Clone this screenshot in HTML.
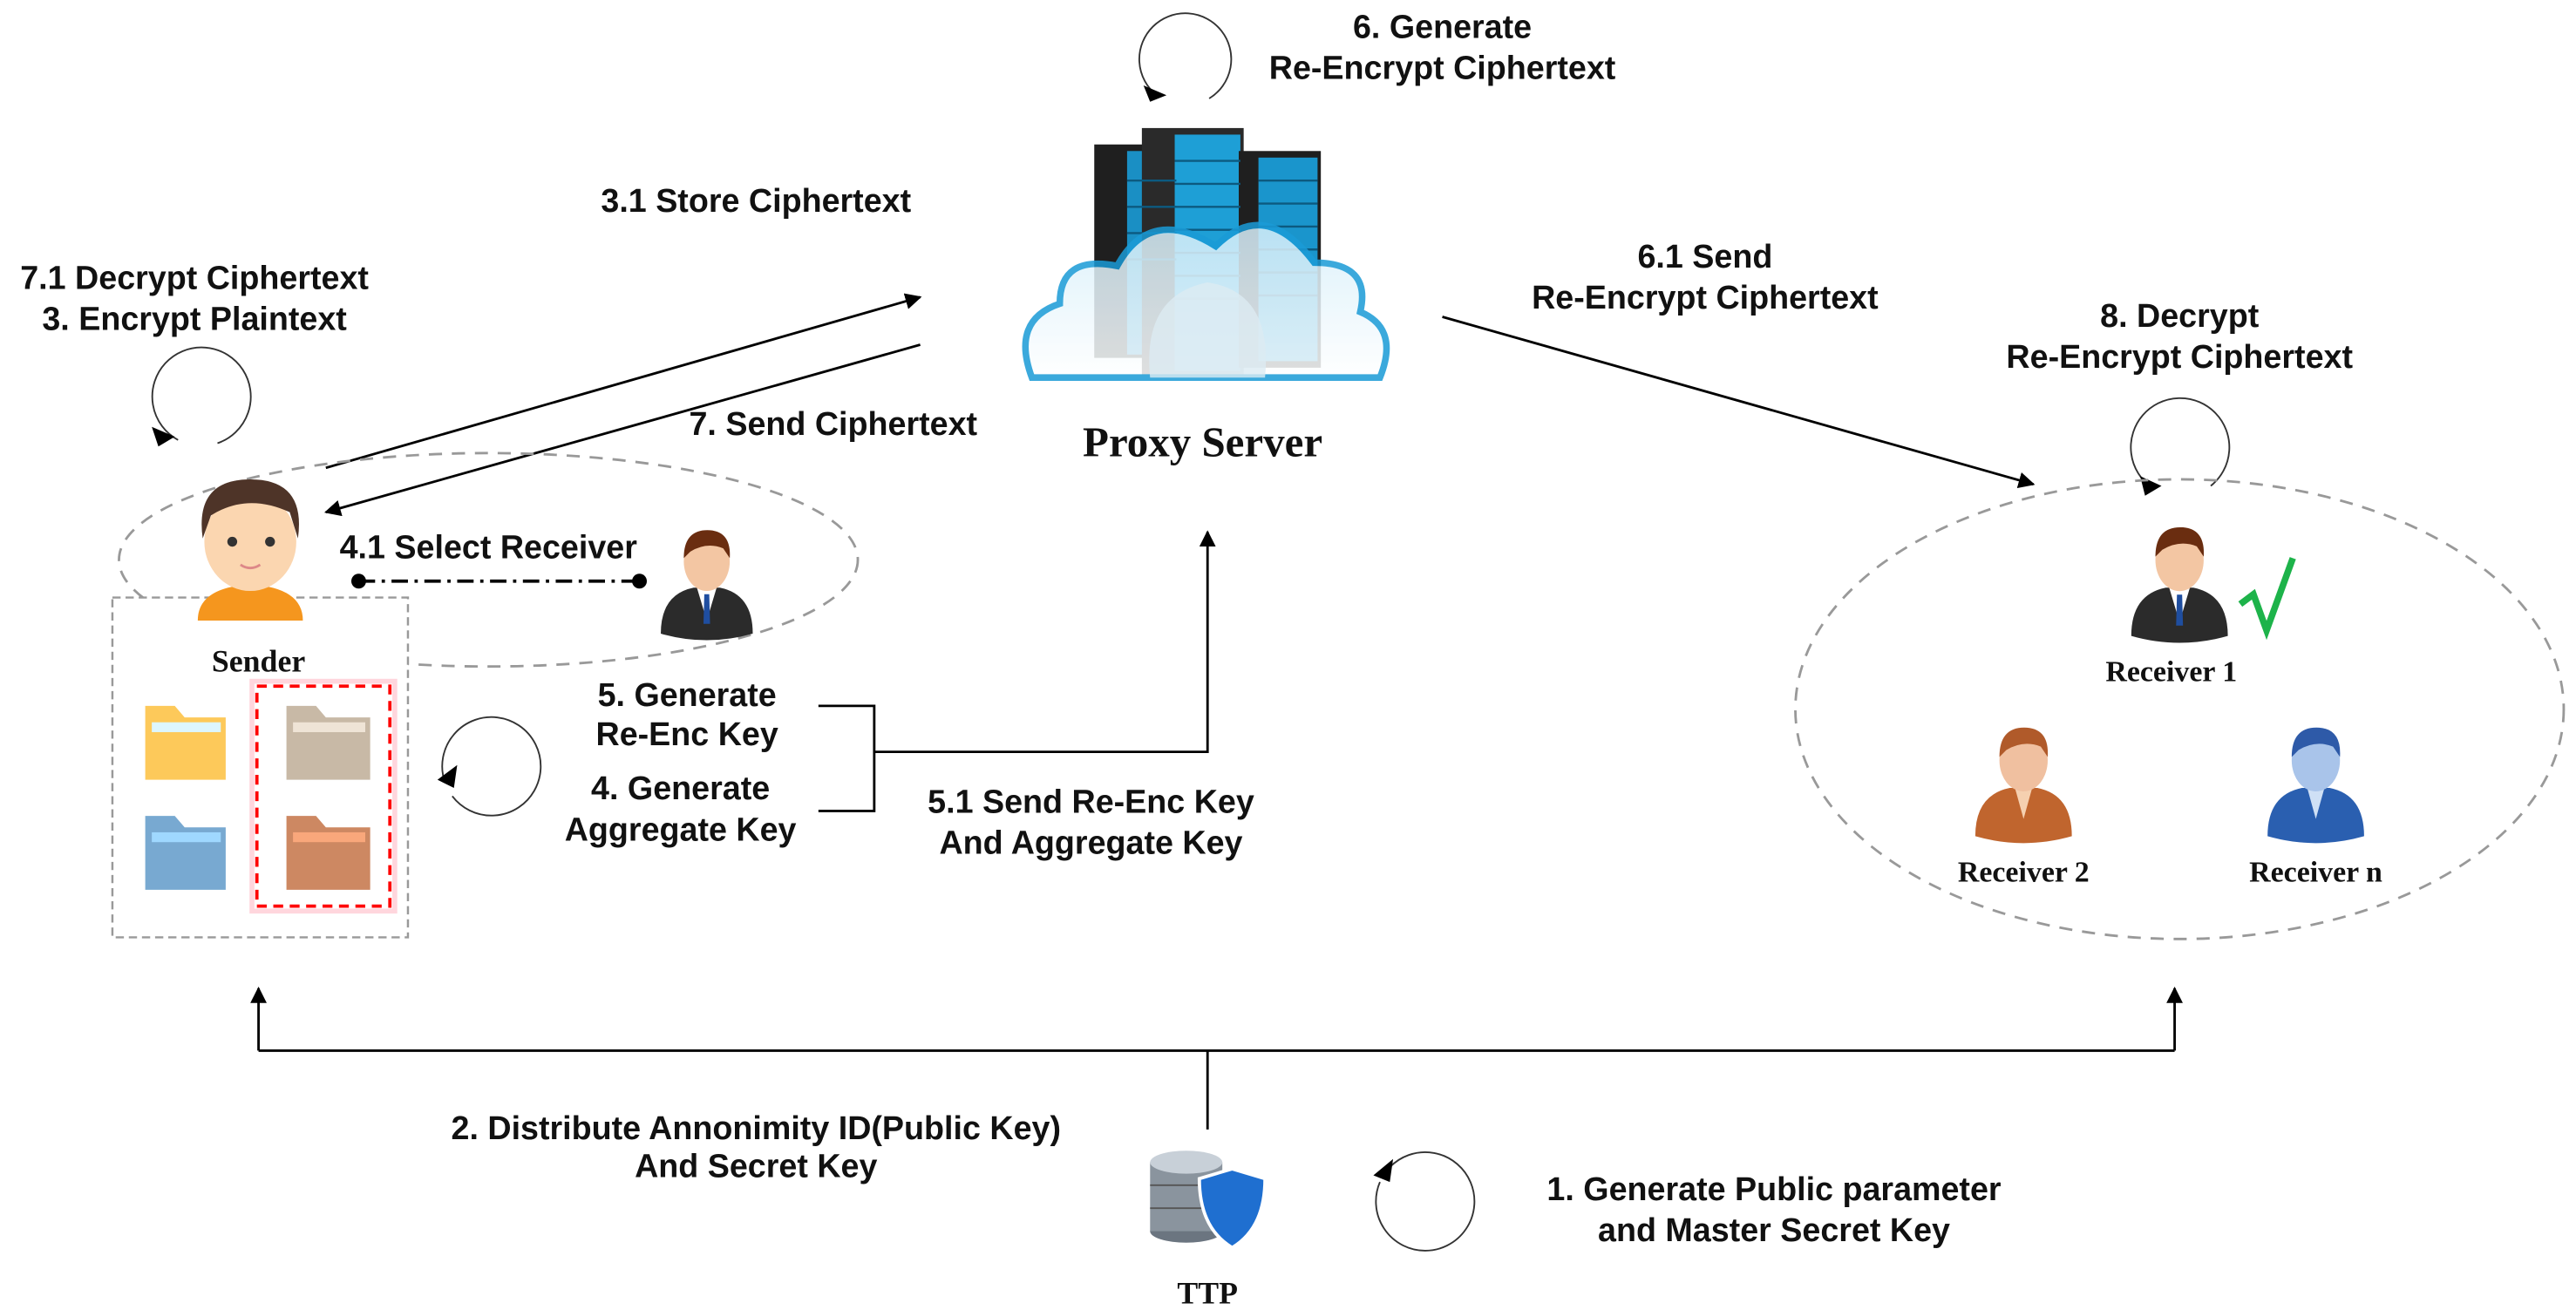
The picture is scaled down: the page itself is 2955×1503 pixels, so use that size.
<!DOCTYPE html>
<html><head><meta charset="utf-8"><style>
html,body{margin:0;padding:0;background:#fff}
svg{display:block}
.t{font-family:"Liberation Sans",sans-serif;font-weight:bold;font-size:20px;fill:#111;text-anchor:middle}
.s{font-family:"Liberation Serif",serif;font-weight:bold;fill:#111;text-anchor:middle}
</style></head><body>
<svg width="2955" height="1503" viewBox="0 0 1568 798" xmlns="http://www.w3.org/2000/svg">
<defs>
<marker id="a" markerWidth="10" markerHeight="10" refX="9" refY="5" orient="auto" markerUnits="userSpaceOnUse"><path d="M0,0 L10,5 L0,10 z" fill="#000"/></marker>
<linearGradient id="cl" x1="0" y1="0" x2="0" y2="1"><stop offset="0" stop-color="#d6effa"/><stop offset="1" stop-color="#fff"/></linearGradient>
<g id="man">
<path d="M-28,28 Q-28,4 -8,0 L8,0 Q28,4 28,28 Q0,36 -28,28z" fill="#2b2b2b"/>
<path d="M-6,0 L0,20 L6,0z" fill="#fff"/><path d="M-1.5,4 L1.5,4 L2,22 L-2,22z" fill="#1f4ea0"/>
<ellipse cx="0" cy="-16" rx="14" ry="18" fill="#f3c6a3"/>
<path d="M-14,-18 Q-14,-36 2,-35 Q15,-34 14,-18 L10,-24 Q0,-28 -10,-22z" fill="#6a2d10"/>
</g>
</defs>

<!-- top loop -->
<path d="M704,58 A28,28 0 1 1 736,60" fill="none" stroke="#333" stroke-width="1"/>
<path d="M696,52 L710,58 L700,62z" fill="#000"/>
<text class="t" x="878" y="23">6. Generate</text>
<text class="t" x="878" y="48">Re-Encrypt Ciphertext</text>

<!-- server -->
<rect x="666" y="88" width="52" height="130" fill="#1f1f1f"/><rect x="686" y="92" width="30" height="124" fill="#1a8fc4"/>
<rect x="695" y="78" width="62" height="150" fill="#2a2a2a"/><rect x="715" y="82" width="40" height="144" fill="#1e9fd6"/>
<rect x="754" y="92" width="50" height="132" fill="#1f1f1f"/><rect x="766" y="96" width="36" height="124" fill="#1a95cc"/>
<g stroke="#0c5a80" stroke-width="1.3">
<line x1="715" y1="98" x2="755" y2="98"/><line x1="715" y1="112" x2="755" y2="112"/><line x1="715" y1="126" x2="755" y2="126"/><line x1="715" y1="140" x2="755" y2="140"/><line x1="715" y1="154" x2="755" y2="154"/><line x1="715" y1="168" x2="755" y2="168"/><line x1="715" y1="182" x2="755" y2="182"/>
<line x1="766" y1="110" x2="802" y2="110"/><line x1="766" y1="124" x2="802" y2="124"/><line x1="766" y1="138" x2="802" y2="138"/><line x1="766" y1="152" x2="802" y2="152"/><line x1="766" y1="166" x2="802" y2="166"/><line x1="766" y1="180" x2="802" y2="180"/>
<line x1="686" y1="110" x2="716" y2="110"/><line x1="686" y1="126" x2="716" y2="126"/><line x1="686" y1="142" x2="716" y2="142"/><line x1="686" y1="158" x2="716" y2="158"/>
</g>
<path d="M628,230 Q615,195 645,185 Q645,155 680,162 Q700,125 740,150 Q770,120 800,160 Q835,160 828,190 Q852,200 840,230z" fill="url(#cl)" opacity="0.85" stroke="#1a9bd7" stroke-width="4"/>
<path d="M700,230 Q695,180 735,172 Q775,178 770,230z" fill="#dcebf2" opacity="0.8"/>
<text class="s" x="732" y="278" font-size="26">Proxy Server</text>

<!-- left labels -->
<text class="t" x="460" y="129">3.1 Store Ciphertext</text>
<text class="t" x="118" y="176">7.1 Decrypt Ciphertext</text>
<text class="t" x="118" y="201">3. Encrypt Plaintext</text>
<path d="M108,268 A30,30 0 1 1 132,270" fill="none" stroke="#333" stroke-width="1"/>
<path d="M92,260 L106,266 L96,272z" fill="#000"/>

<line x1="198" y1="285" x2="560" y2="181" stroke="#000" stroke-width="1.5" marker-end="url(#a)"/>
<line x1="560" y1="210" x2="198" y2="312" stroke="#000" stroke-width="1.5" marker-end="url(#a)"/>
<text class="t" x="507" y="265">7. Send Ciphertext</text>

<text class="t" x="1038" y="163">6.1 Send</text>
<text class="t" x="1038" y="188">Re-Encrypt Ciphertext</text>
<line x1="878" y1="193" x2="1238" y2="295" stroke="#000" stroke-width="1.5" marker-end="url(#a)"/>
<text class="t" x="1327" y="199">8. Decrypt</text>
<text class="t" x="1327" y="224">Re-Encrypt Ciphertext</text>
<path d="M1310,297 A30,30 0 1 1 1346,296" fill="none" stroke="#333" stroke-width="1"/>
<path d="M1303,290 L1316,296 L1306,302z" fill="#000"/>

<!-- left ellipse -->
<ellipse cx="297" cy="341" rx="225" ry="65" fill="none" stroke="#999" stroke-width="1.5" stroke-dasharray="8,6"/>
<rect x="68" y="364" width="180" height="207" fill="#fff" stroke="#999" stroke-width="1.3" stroke-dasharray="5,3"/>
<!-- sender -->
<path d="M120,378 Q120,358 152,356 Q184,358 184,378z" fill="#f5961e"/>
<rect x="145" y="346" width="14" height="12" fill="#f2c69e"/>
<ellipse cx="152" cy="330" rx="28" ry="30" fill="#fbd6b0"/>
<path d="M123,328 Q118,292 152,292 Q186,292 181,328 L176,312 Q150,300 128,314z" fill="#4e3428"/>
<circle cx="141" cy="330" r="3" fill="#333"/><circle cx="164" cy="330" r="3" fill="#333"/>
<path d="M146,344 Q152,348 158,344" stroke="#d88" fill="none" stroke-width="1.5"/>
<text class="t" x="297" y="340">4.1 Select Receiver</text>
<line x1="218" y1="354" x2="389" y2="354" stroke="#000" stroke-width="2" stroke-dasharray="10,4,2,4"/>
<circle cx="218" cy="354" r="4.5"/><circle cx="389" cy="354" r="4.5"/>
<use href="#man" transform="translate(430,358)"/>
<text class="s" x="157" y="409" font-size="19">Sender</text>
<!-- folders -->
<rect x="156" y="418" width="81" height="134" fill="none" stroke="#f00" stroke-width="2" stroke-dasharray="6,4"/>
<rect x="153" y="415" width="87" height="140" fill="none" stroke="#f9a" stroke-width="3" opacity="0.4"/>
<g>
<path d="M88,475 L88,430 L106,430 L112,437 L137,437 L137,475z" fill="#fdc95a"/><rect x="92" y="440" width="42" height="6" fill="#ddf6ff"/>
<path d="M174,475 L174,430 L192,430 L198,437 L225,437 L225,475z" fill="#c8b9a6"/><rect x="178" y="440" width="44" height="6" fill="#efe4d6"/>
<path d="M88,542 L88,497 L106,497 L112,504 L137,504 L137,542z" fill="#78a9d1"/><rect x="92" y="507" width="42" height="6" fill="#9fd8ff"/>
<path d="M174,542 L174,497 L192,497 L198,504 L225,504 L225,542z" fill="#cd8862"/><rect x="178" y="507" width="44" height="6" fill="#f9a77b"/>
</g>
<path d="M270,475 A30,30 0 1 1 275,485" fill="none" stroke="#333" stroke-width="1"/>
<path d="M266,475 L278,466 L276,480z" fill="#000"/>

<text class="t" x="418" y="430">5. Generate</text>
<text class="t" x="418" y="454">Re-Enc Key</text>
<text class="t" x="414" y="487">4. Generate</text>
<text class="t" x="414" y="512">Aggregate Key</text>
<path d="M498,430 L532,430 L532,494 L498,494 M532,458 L735,458 L735,324" fill="none" stroke="#000" stroke-width="1.5" marker-end="url(#a)"/>
<text class="t" x="664" y="495">5.1 Send Re-Enc Key</text>
<text class="t" x="664" y="520">And Aggregate Key</text>

<!-- right ellipse -->
<ellipse cx="1327" cy="432" rx="234" ry="140" fill="none" stroke="#999" stroke-width="1.5" stroke-dasharray="8,6"/>
<use href="#man" transform="translate(1327,358) scale(1.05)"/>
<path d="M1364,368 L1372,362 L1380,384 L1396,340" fill="none" stroke="#1db34a" stroke-width="4"/>
<text class="s" x="1322" y="415" font-size="18">Receiver 1</text>
<g transform="translate(1232,480) scale(1.05)">
<path d="M-28,28 Q-28,4 -8,0 L8,0 Q28,4 28,28 Q0,36 -28,28z" fill="#c0652e"/><path d="M-5,0 L0,18 L5,0z" fill="#f5d0b0"/>
<ellipse cx="0" cy="-16" rx="14" ry="18" fill="#f0c0a0"/><path d="M-14,-18 Q-14,-36 2,-35 Q15,-34 14,-18 L10,-24 Q0,-28 -10,-22z" fill="#b05a2a"/></g>
<g transform="translate(1410,480) scale(1.05)">
<path d="M-28,28 Q-28,4 -8,0 L8,0 Q28,4 28,28 Q0,36 -28,28z" fill="#2a5fb0"/><path d="M-5,0 L0,18 L5,0z" fill="#cfe0f5"/>
<ellipse cx="0" cy="-16" rx="14" ry="18" fill="#a9c4ea"/><path d="M-14,-18 Q-14,-36 2,-35 Q15,-34 14,-18 L10,-24 Q0,-28 -10,-22z" fill="#2e5aa8"/></g>
<text class="s" x="1232" y="537" font-size="18">Receiver 2</text>
<text class="s" x="1410" y="537" font-size="18">Receiver n</text>

<!-- bottom -->
<path d="M157,640 L157,602" stroke="#000" stroke-width="1.5" marker-end="url(#a)"/>
<path d="M1324,640 L1324,602" stroke="#000" stroke-width="1.5" marker-end="url(#a)"/>
<path d="M157,640 L1324,640 M735,640 L735,688" stroke="#000" stroke-width="1.5" fill="none"/>
<text class="t" x="460" y="694">2. Distribute Annonimity ID(Public Key)</text>
<text class="t" x="460" y="717">And Secret Key</text>
<!-- TTP icon -->
<ellipse cx="722" cy="750" rx="22" ry="7" fill="#6b7580"/>
<rect x="700" y="708" width="44" height="42" fill="#8a949e"/>
<ellipse cx="722" cy="708" rx="22" ry="7" fill="#c8d0d8"/>
<line x1="700" y1="722" x2="744" y2="722" stroke="#555"/><line x1="700" y1="736" x2="744" y2="736" stroke="#555"/>
<path d="M750,712 L770,718 Q770,748 750,760 Q730,748 730,718z" fill="#1f6fd0" stroke="#fff" stroke-width="2"/>
<text class="s" x="735" y="794" font-size="19">TTP</text>
<path d="M846,711 A30,30 0 1 1 840,720" fill="none" stroke="#333" stroke-width="1"/>
<path d="M836,716 L848,706 L846,720z" fill="#000"/>
<text class="t" x="1080" y="731">1. Generate Public parameter</text>
<text class="t" x="1080" y="756">and Master Secret Key</text>
</svg>
</body></html>
